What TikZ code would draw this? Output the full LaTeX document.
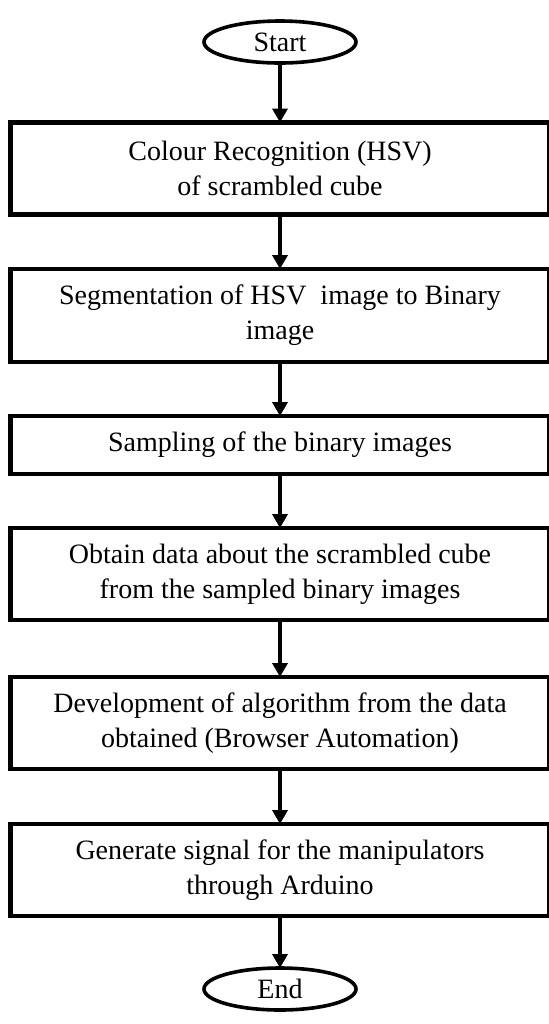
\documentclass[tikz,border=0pt]{standalone}
\usepackage{fontspec}
\setmainfont{Liberation Serif}
\usetikzlibrary{positioning}
\usetikzlibrary{shapes.geometric}
\usetikzlibrary{arrows.meta}
\tikzset{term node/.style={ellipse,draw,line width=1.8pt,minimum width=76pt,minimum height=21pt,inner sep=0pt,outer sep=0pt,font=\fontsize{14}{17.5}\selectfont},}
\tikzset{step node/.style={rectangle,draw,line width=2.3pt,minimum width=269.5pt,inner sep=0pt,outer sep=0pt,align=center,font=\fontsize{14}{17.5}\selectfont},}

\begin{document}
\begin{tikzpicture}
   \useasboundingbox (0,0) rectangle (274.5pt,-512pt);
   \node[term node] (start) at (140pt,-21pt) {Start};
   \node[step node, minimum height=46pt] (colour) [below = 29.75pt of start] {Colour Recognition (HSV)\\of scrambled cube};
   \node[step node, minimum height=46.5pt] (segment) [below = 27.25pt of colour] {Segmentation of HSV\ \ image to Binary\\image};
   \node[step node, minimum height=29pt] (sample) [below = 27pt of segment] {Sampling of the binary images};
   \node[step node, minimum height=46pt] (obtain) [below = 27pt of sample] {Obtain data about the scrambled cube\\from the sampled binary images};
   \node[step node, minimum height=46pt] (develop) [below = 28.5pt of obtain] {Development of algorithm from the data\\obtained (Browser Automation)};
   \node[step node, minimum height=46pt] (signal) [below = 27.5pt of develop] {Generate signal for the manipulators\\through Arduino};
   \node[term node] (stop) [below = 26pt of signal] {End};

    \path[-{Triangle[width=7.5pt,length=7pt]},line width=2pt]
    (start) edge (colour)
    (colour) edge (segment)
    (segment) edge (sample)
    (sample) edge (obtain)
    (obtain) edge (develop)
    (develop) edge (signal)
    (signal) edge (stop);
  \end{tikzpicture}
\end{document}
